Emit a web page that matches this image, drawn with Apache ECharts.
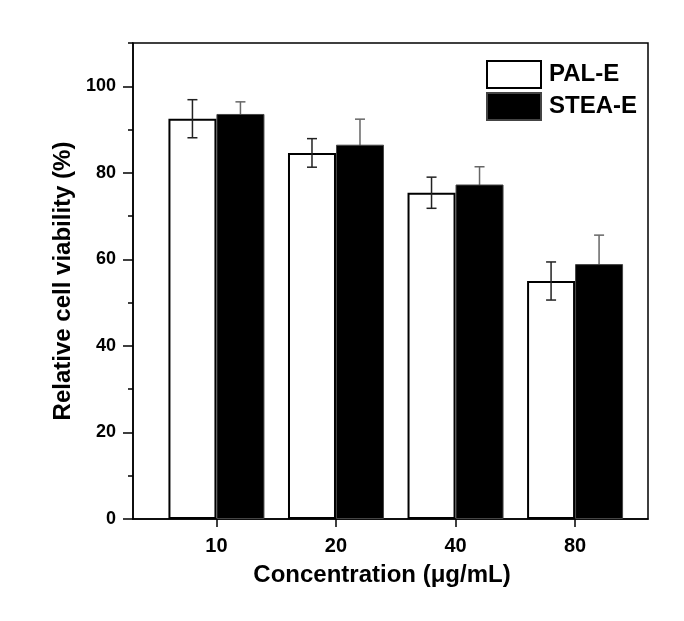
<!DOCTYPE html>
<html>
<head>
<meta charset="utf-8">
<script src="https://cdn.jsdelivr.net/npm/echarts@6/dist/echarts.min.js"></script>
<style>
html,body{margin:0;padding:0;background:#fff;}
#chart{width:684px;height:621px;}
</style>
</head>
<body>
<div id="chart"></div>
<script>
const categories = ['10', '20', '40', '80'];
const xPos = [1, 2, 3, 4];
const palMean = [92.5, 84.6, 75.4, 55.0];
const palErr = [4.4, 3.3, 3.6, 4.4];
const steaMean = [93.6, 86.5, 77.3, 58.9];
const steaErr = [2.8, 5.9, 4.1, 6.7];
const yTickValues = [0, 20, 40, 60, 80, 100];
const seriesNames = ['PAL-E', 'STEA-E'];

const FONT = 'Liberation Sans, Arial, sans-serif';
const BAR_W = 48;

function errSeries(means, errs, offset, color, z) {
  return {
    type: 'custom',
    z: z,
    silent: true,
    xAxisIndex: 0,
    yAxisIndex: 0,
    data: xPos.map((x, i) => [x, means[i] - errs[i], means[i] + errs[i]]),
    renderItem: function (params, api) {
      const x = api.value(0);
      const lo = api.coord([x, api.value(1)]);
      const hi = api.coord([x, api.value(2)]);
      const cx = lo[0] + offset;
      const cap = 5;
      const st = { stroke: color, lineWidth: 1.5 };
      return {
        type: 'group',
        children: [
          { type: 'line', shape: { x1: cx, y1: lo[1], x2: cx, y2: hi[1] }, style: st },
          { type: 'line', shape: { x1: cx - cap, y1: hi[1], x2: cx + cap, y2: hi[1] }, style: st },
          { type: 'line', shape: { x1: cx - cap, y1: lo[1], x2: cx + cap, y2: lo[1] }, style: st }
        ]
      };
    }
  };
}

const chart = echarts.init(document.getElementById('chart'));
chart.setOption({
  backgroundColor: '#fff',
  animation: false,
  grid: {
    left: 133, right: 36, top: 43, bottom: 102,
    show: true, borderColor: '#000', borderWidth: 1.5, backgroundColor: 'transparent'
  },
  legend: {
    orient: 'vertical',
    left: 486, top: 60,
    padding: 0,
    itemWidth: 54, itemHeight: 27, itemGap: 3,
    selectedMode: false,
    icon: 'rect',
    data: seriesNames,
    textStyle: { fontFamily: FONT, fontWeight: 'bold', fontSize: 24, color: '#000', padding: [0, 0, 0, 3] }
  },
  xAxis: {
    type: 'value',
    min: 0.302, max: 4.61,
    name: 'Concentration (μg/mL)',
    nameLocation: 'middle',
    nameGap: 44,
    nameTextStyle: { fontFamily: FONT, fontWeight: 'bold', fontSize: 24, color: '#000', padding: [0, 17, 0, 0] },
    splitLine: { show: false },
    axisLine: { lineStyle: { color: '#000', width: 1.5 } },
    axisTick: { length: 8, lineStyle: { color: '#000', width: 1.5 }, customValues: xPos },
    axisLabel: {
      customValues: xPos,
      margin: 17,
      fontFamily: FONT, fontWeight: 'bold', fontSize: 20, color: '#000',
      formatter: function (v) { const i = xPos.indexOf(v); return i >= 0 ? categories[i] : ''; }
    }
  },
  yAxis: [
    {
      type: 'value',
      min: 0, max: 110,
      name: 'Relative cell viability (%)',
      nameLocation: 'middle',
      nameGap: 51,
      nameTextStyle: { fontFamily: FONT, fontWeight: 'bold', fontSize: 24, color: '#000' },
      splitLine: { show: false },
      axisLine: { show: true, lineStyle: { color: '#000', width: 1.5 } },
      axisTick: { length: 10, lineStyle: { color: '#000', width: 1.5 }, customValues: yTickValues },
      axisLabel: {
        customValues: yTickValues,
        margin: 17,
        fontFamily: FONT, fontWeight: 'bold', fontSize: 18, color: '#000'
      }
    },
    {
      type: 'value',
      position: 'left',
      min: 0, max: 110, interval: 10,
      splitLine: { show: false },
      axisLine: { show: false },
      axisTick: { show: true, length: 5, lineStyle: { color: '#000', width: 1.5 } },
      axisLabel: { show: false }
    }
  ],
  series: [
    {
      name: seriesNames[0],
      type: 'bar',
      z: 2,
      barWidth: BAR_W,
      barGap: '0%',
      itemStyle: { color: '#fff', borderColor: '#000', borderWidth: 2 },
      data: xPos.map((x, i) => [x, palMean[i]])
    },
    {
      name: seriesNames[1],
      type: 'bar',
      z: 2,
      barWidth: BAR_W,
      barGap: '0%',
      itemStyle: { color: '#000', borderColor: '#444', borderWidth: 1 },
      data: xPos.map((x, i) => [x, steaMean[i]])
    },
    errSeries(palMean, palErr, -BAR_W / 2, '#222', 5),
    errSeries(steaMean, steaErr, BAR_W / 2, '#666', 1)
  ]
});
</script>
</body>
</html>
